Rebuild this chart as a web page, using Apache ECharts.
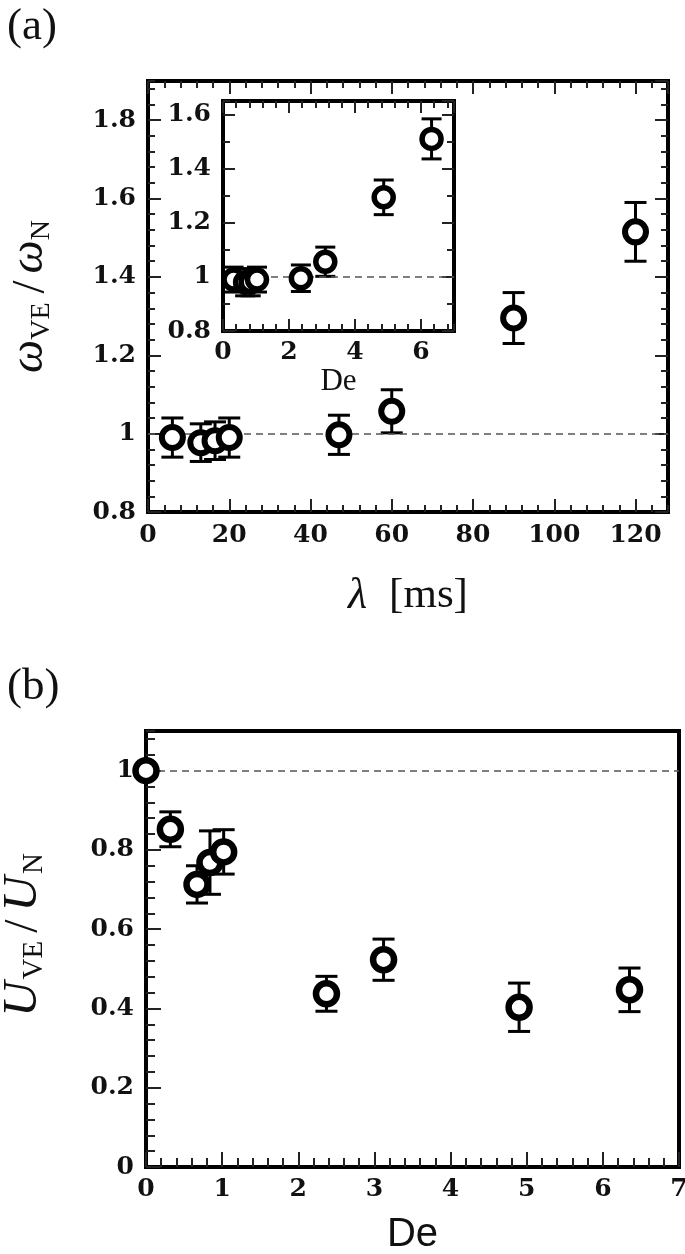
<!DOCTYPE html>
<html>
<head>
<meta charset="utf-8">
<script src="https://cdn.jsdelivr.net/npm/echarts@6.0.0/dist/echarts.min.js"></script>
<style>
  html, body { margin: 0; padding: 0; background: #fff; }
  #chart { width: 685px; height: 1254px; }
</style>
</head>
<body>
<div id="chart"></div>
<script>
// (a) main: frequency ratio vs relaxation time
var lambdaMs = [6, 13, 16.5, 20, 47, 60, 90, 120];
var omegaRatio = [0.99, 0.977, 0.982, 0.99, 0.997, 1.057, 1.295, 1.515];
var omegaErr = [0.05, 0.048, 0.048, 0.05, 0.05, 0.055, 0.065, 0.075];

// (a) inset: same ratio vs De
var deInset = [0.32, 0.67, 0.84, 1.03, 2.36, 3.1, 4.87, 6.32];
var omegaInset = [0.99, 0.98, 0.98, 0.99, 0.995, 1.056, 1.294, 1.51];
var omegaInsetErr = [0.046, 0.05, 0.05, 0.046, 0.049, 0.054, 0.064, 0.074];

// (b): speed ratio vs De
var deValues = [0, 0.32, 0.67, 0.84, 1.02, 2.37, 3.12, 4.9, 6.35];
var uRatio = [1.0, 0.852, 0.713, 0.768, 0.795, 0.437, 0.523, 0.403, 0.447];
var uErr = [0, 0.044, 0.047, 0.08, 0.056, 0.044, 0.052, 0.061, 0.055];

var refLevel = 1;

function zip3(xs, ys, es) {
  var out = [];
  for (var i = 0; i < xs.length; i++) out.push([xs[i], ys[i], es[i]]);
  return out;
}

var ink = '#111';
var tickStyle = { color: '#222', width: 2 };
var labelFont = { fontFamily: 'DejaVu Serif', fontWeight: 'bold', fontSize: 25, color: ink };

function axis(gridIndex, position, min, max, interval, tickLen, withLabels, margin) {
  var a = {
    type: 'value', gridIndex: gridIndex, position: position,
    min: min, max: max, interval: interval,
    axisLine: { show: false, onZero: false },
    splitLine: { show: false },
    axisTick: { show: true, inside: true, length: tickLen, lineStyle: tickStyle },
    axisLabel: { show: false }
  };
  if (withLabels) {
    a.axisLabel = Object.assign({ show: true, margin: margin, showMaxLabel: false }, labelFont);
  }
  return a;
}

// grids: each frame has a "major" grid (labels, data) and an identical "minor" grid (short ticks)
var rectMain = { left: 148, top: 81, width: 520, height: 431 };
var rectInset = { left: 223, top: 101, width: 231, height: 230 };
var rectB = { left: 146, top: 731, width: 533, height: 436 };

function frame(r, show) {
  return Object.assign({
    show: show, borderWidth: 4, borderColor: '#000', backgroundColor: 'transparent',
    containLabel: false, outerBoundsMode: 'none'
  }, r);
}

// x axes
var xa0 = axis(0, 'bottom', 0, 128, 20, 13, true, 11);
xa0.name = '{l|λ}{r|[ms]}';
xa0.nameLocation = 'middle';
xa0.nameGap = 62;
xa0.nameTextStyle = { color: ink, rich: {
  l: { fontFamily: 'Liberation Serif', fontStyle: 'italic', fontSize: 44, color: ink, padding: [0, 22, 0, 0] },
  r: { fontFamily: 'Liberation Serif', fontSize: 43, color: ink }
} };

var xa4 = axis(2, 'bottom', 0, 7, 2, 12, true, 9);
xa4.name = 'De';
xa4.nameLocation = 'middle';
xa4.nameGap = 18;
xa4.nameTextStyle = { fontFamily: 'Liberation Serif', fontSize: 31, color: ink };

var xa8 = axis(4, 'bottom', 0, 7, 1, 15, true, 10);
xa8.axisLabel.showMaxLabel = true;
xa8.name = 'De';
xa8.nameLocation = 'middle';
xa8.nameGap = 48;
xa8.nameTextStyle = { fontFamily: 'Liberation Sans', fontSize: 40, color: ink };

var xAxes = [
  xa0,
  axis(0, 'top', 0, 128, 20, 13, false),
  axis(1, 'bottom', 0, 128, 4, 7, false),
  axis(1, 'top', 0, 128, 4, 7, false),
  xa4,
  axis(2, 'top', 0, 7, 2, 12, false),
  axis(3, 'bottom', 0, 7, 0.4, 7, false),
  axis(3, 'top', 0, 7, 0.4, 7, false),
  xa8,
  axis(5, 'bottom', 0, 7, 0.2, 9, false)
];

// y axes
var ya0 = axis(0, 'left', 0.8, 1.9, 0.2, 13, true, 12);
ya0.name = '{w|ω}{s|VE}{sl|/}{w|ω}{s|N}';
ya0.nameLocation = 'middle';
ya0.nameRotate = 90;
ya0.nameGap = 92;
ya0.nameTextStyle = { color: ink, rich: {
  w: { fontFamily: 'Liberation Serif', fontStyle: 'italic', fontSize: 47, lineHeight: 46, color: ink, padding: [0, 0, 3, 0] },
  s: { fontFamily: 'Liberation Serif', fontSize: 28, lineHeight: 27, color: ink, verticalAlign: 'bottom' },
  sl: { fontFamily: 'Liberation Serif', fontSize: 47, lineHeight: 49, color: ink, padding: [0, 7, 0, 9] }
} };

var ya8 = axis(4, 'left', 0, 1.1, 0.2, 15, true, 12);
ya8.name = '{u|U}{s|VE}{sl|/}{w|U}{s|N}';
ya8.nameLocation = 'middle';
ya8.nameRotate = 90;
ya8.nameGap = 97;
ya8.nameTextStyle = { color: ink, rich: {
  u: { fontFamily: 'Liberation Serif', fontStyle: 'italic', fontSize: 49, lineHeight: 46, color: ink, padding: [0, 2, 3, 28] },
  w: { fontFamily: 'Liberation Serif', fontStyle: 'italic', fontSize: 49, lineHeight: 46, color: ink, padding: [0, 2, 3, 0] },
  s: { fontFamily: 'Liberation Serif', fontSize: 29, lineHeight: 28, color: ink, verticalAlign: 'bottom' },
  sl: { fontFamily: 'Liberation Serif', fontSize: 48, lineHeight: 49, color: ink, padding: [0, 8, 0, 8] }
} };

var yAxes = [
  ya0,
  axis(0, 'right', 0.8, 1.9, 0.2, 13, false),
  axis(1, 'left', 0.8, 1.9, 0.04, 7, false),
  axis(1, 'right', 0.8, 1.9, 0.04, 7, false),
  axis(2, 'left', 0.8, 1.65, 0.2, 12, true, 12),
  axis(2, 'right', 0.8, 1.65, 0.2, 12, false),
  axis(3, 'left', 0.8, 1.65, 0.1, 7, false),
  axis(3, 'right', 0.8, 1.65, 0.1, 7, false),
  ya8,
  axis(5, 'left', 0, 1.1, 0.04, 9, false)
];

function errorBars(xi, yi, capHalf, data) {
  return {
    type: 'custom', xAxisIndex: xi, yAxisIndex: yi, z: 3, clip: false,
    data: data, encode: { x: 0, y: 1 },
    renderItem: function (params, api) {
      var x = api.value(0), y = api.value(1), e = api.value(2);
      if (!e) return null;
      var top = api.coord([x, y + e]);
      var bot = api.coord([x, y - e]);
      var st = { stroke: '#000', lineWidth: 3 };
      return { type: 'group', children: [
        { type: 'line', shape: { x1: top[0], y1: top[1], x2: bot[0], y2: bot[1] }, style: st },
        { type: 'line', shape: { x1: top[0] - capHalf, y1: top[1], x2: top[0] + capHalf, y2: top[1] }, style: st },
        { type: 'line', shape: { x1: bot[0] - capHalf, y1: bot[1], x2: bot[0] + capHalf, y2: bot[1] }, style: st }
      ] };
    }
  };
}

function circles(xi, yi, size, bw, data) {
  return {
    type: 'scatter', xAxisIndex: xi, yAxisIndex: yi, z: 5, clip: false,
    data: data, symbol: 'circle', symbolSize: size,
    itemStyle: { color: '#fff', borderColor: '#000', borderWidth: bw, opacity: 1 },
    emphasis: { disabled: true }
  };
}

function refLine(xi, yi, data) {
  return {
    type: 'line', xAxisIndex: xi, yAxisIndex: yi, z: 1,
    data: data, showSymbol: false, lineStyle: { opacity: 0 },
    markLine: {
      silent: true, symbol: 'none', label: { show: false },
      lineStyle: { type: [7, 5], color: '#555', width: 1.5 },
      data: [{ yAxis: refLevel }]
    }
  };
}

var mainData = zip3(lambdaMs, omegaRatio, omegaErr);
var insetData = zip3(deInset, omegaInset, omegaInsetErr);
var bData = zip3(deValues, uRatio, uErr);

var option = {
  backgroundColor: '#fff',
  animation: false,
  title: [
    { text: '(a)', left: 2, top: 0, textStyle: { fontFamily: 'Liberation Serif', fontSize: 45, fontWeight: 'normal', color: ink } },
    { text: '(b)', left: 2, top: 660, textStyle: { fontFamily: 'Liberation Serif', fontSize: 45, fontWeight: 'normal', color: ink } }
  ],
  grid: [
    frame(rectMain, true),
    frame(rectMain, false),
    frame(rectInset, true),
    frame(rectInset, false),
    frame(rectB, true),
    frame(rectB, false)
  ],
  xAxis: xAxes,
  yAxis: yAxes,
  series: [
    refLine(0, 0, mainData),
    errorBars(0, 0, 11, mainData),
    circles(0, 0, 21, 6, mainData),
    refLine(4, 4, insetData),
    errorBars(4, 4, 10, insetData),
    circles(4, 4, 19, 5.5, insetData),
    refLine(8, 8, bData),
    errorBars(8, 8, 11, bData),
    circles(8, 8, 21, 6.5, bData)
  ]
};

var chart = echarts.init(document.getElementById('chart'), null, { renderer: 'canvas' });
chart.setOption(option);
</script>
</body>
</html>
